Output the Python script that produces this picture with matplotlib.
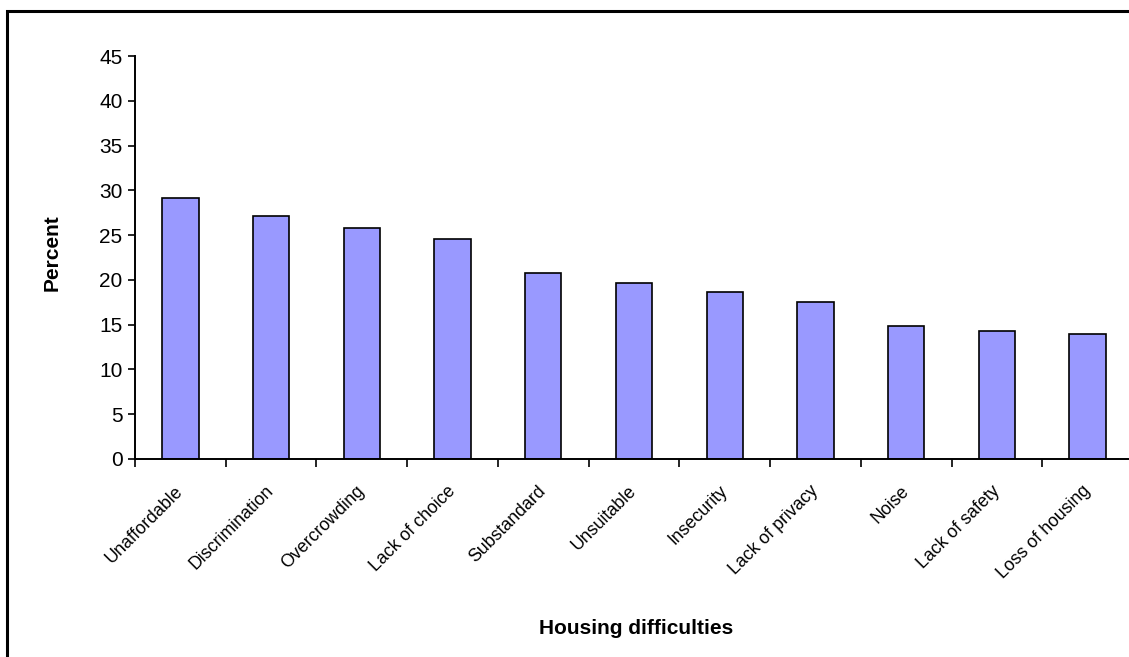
import numpy as np
import matplotlib
matplotlib.use('Agg')
from matplotlib import pyplot as plt
from matplotlib.patches import Rectangle
from matplotlib.transforms import ScaledTranslation

plt.rcParams['font.family'] = ['Liberation Sans', 'DejaVu Sans']

categories = ['Unaffordable', 'Discrimination', 'Overcrowding', 'Lack of choice',
              'Substandard', 'Unsuitable', 'Insecurity', 'Lack of privacy',
              'Noise', 'Lack of safety', 'Loss of housing']
percent = [29.1, 27.1, 25.8, 24.6, 20.8, 19.6, 18.7, 17.5, 14.9, 14.3, 14.0]
y_ticks = [0, 5, 10, 15, 20, 25, 30, 35, 40, 45]

W, H = 1129, 657
fig = plt.figure(figsize=(W / 100, H / 100), dpi=100)
ax = fig.add_axes([135 / W, 1 - 459 / H, 998 / W, 403 / H])

x = np.arange(len(categories))
ax.bar(x, percent, width=0.4, color='#9999FF', edgecolor='black', linewidth=1.2)

ax.set_xlim(-0.5, len(categories) - 0.5)
ax.set_ylim(0, 45)
ax.set_yticks(y_ticks)
ax.tick_params(axis='y', direction='out', length=5, width=1.2, labelsize=15, pad=4)

# labels sit at category centres, tick marks sit between categories
ax.set_xticks(x)
ax.set_xticklabels(categories, rotation=45, ha='right', rotation_mode='anchor', fontsize=12.8)
ax.tick_params(axis='x', which='major', length=0, pad=17)
ax.set_xticks(np.arange(len(categories) + 1) - 0.5, minor=True)
ax.tick_params(axis='x', which='minor', direction='out', length=6, width=1.2)
shift = ScaledTranslation(-6 / 100, 0, fig.dpi_scale_trans)
for lab in ax.get_xticklabels():
    lab.set_transform(lab.get_transform() + shift)

for side in ['top', 'right']:
    ax.spines[side].set_visible(False)
for side in ['left', 'bottom']:
    ax.spines[side].set_linewidth(1.4)

fig.text(52 / W, 1 - 253 / H, 'Percent', rotation=90, ha='center', va='center',
         fontsize=15, fontweight='bold')
fig.text(636 / W, 1 - 628 / H, 'Housing difficulties', ha='center', va='center',
         fontsize=15, fontweight='bold')

# chart frame
fig.patches.append(Rectangle((7 / W, -0.1), 1.2, 1.1 - 11 / H,
                             transform=fig.transFigure, fill=False,
                             edgecolor='black', linewidth=2.2))

fig.savefig('out.png', dpi=100)
